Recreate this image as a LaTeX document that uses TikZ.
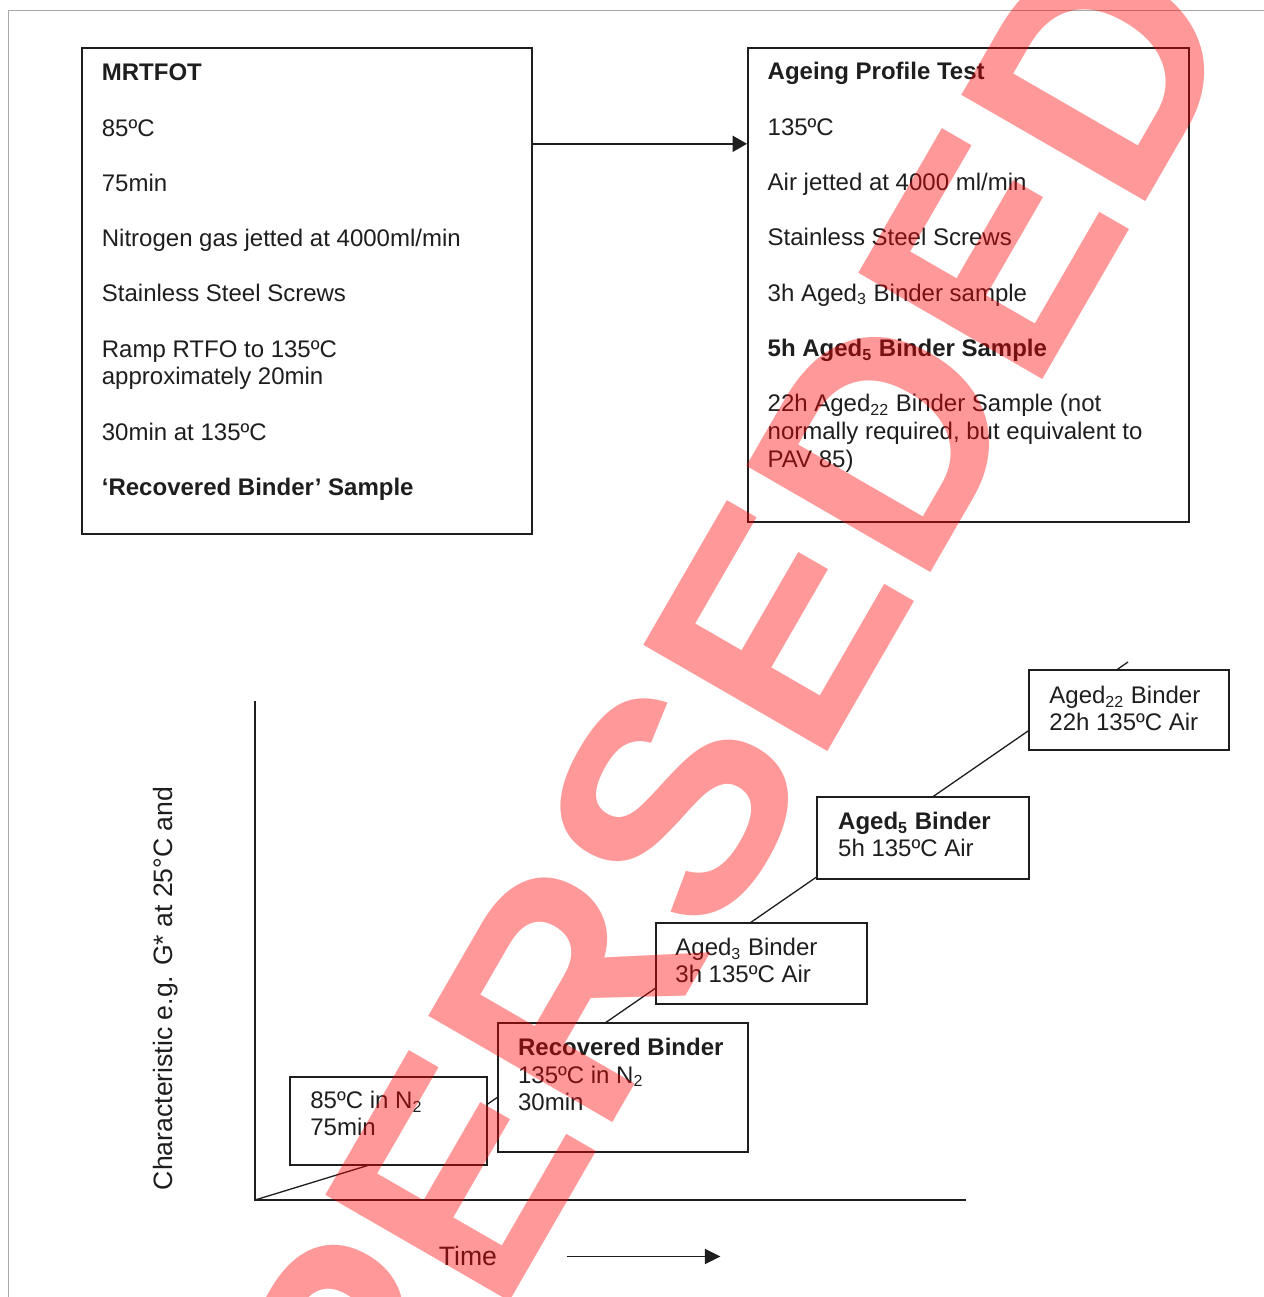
\documentclass[tikz,border=0pt]{standalone}
\usepackage{fontspec}
\setmainfont{Liberation Sans}
\usetikzlibrary{arrows.meta,calc,backgrounds}
\definecolor{ink}{HTML}{1E1E1E}
\definecolor{framegray}{HTML}{A8A8A8}
\begin{document}
\begin{tikzpicture}[x=0.5pt,y=-0.5pt,
  box/.style={draw=ink, line width=0.85pt, fill=white, inner sep=0pt, anchor=north west},
  txt/.style={text=ink, inner sep=0pt, anchor=north west, align=left, font=\fontsize{12pt}{13.825pt}\selectfont},
  gtxt/.style={txt, font=\fontsize{12pt}{13.4pt}\selectfont},
  lbl/.style={text=ink, inner sep=0pt, font=\fontsize{13.3pt}{15pt}\selectfont},
  link/.style={draw=ink, line width=0.65pt},
  axis/.style={draw=ink, line width=0.9pt},
  arr/.style={draw=ink, line width=0.9pt, -{Triangle[length=7.2pt,width=8pt]}},
  arrb/.style={draw=ink, line width=0.9pt, -{Triangle[length=7.8pt,width=7.5pt]}},
  wm/.style={inner sep=0pt, text=red, text opacity=0.4, font=\bfseries\fontsize{154.5pt}{160pt}\selectfont}
]
\useasboundingbox (0,0) rectangle (1264,1297);
\clip (0,0) rectangle (1264,1297);
\begin{scope}[on background layer]
  \fill[white] (0,0) rectangle (1264,1297);
\end{scope}
\draw[framegray, line width=0.65pt] (8.3,1297) -- (8.3,10.3) -- (1264,10.3);

% top boxes
\node[box, minimum width=225pt, minimum height=243pt] (b1) at (81,47) {};
\node[box, minimum width=220.5pt, minimum height=237pt] (b2) at (747,47) {};

\node[txt] (t1) at (101.5,60.3) {\rule{0pt}{10pt}\textbf{MRTFOT}\\[13.825pt]
85ºC\\[13.825pt]
75min\\[13.825pt]
Nitrogen gas jetted at 4000ml/min\\[13.825pt]
Stainless Steel Screws\\[13.825pt]
Ramp RTFO to 135ºC\\
approximately 20min\\[13.825pt]
30min at 135ºC\\[13.825pt]
\textbf{‘Recovered Binder’ Sample}};

\node[txt] (t2) at (767.3,59.5) {\rule{0pt}{10pt}\textbf{Ageing Profile Test}\\[13.825pt]
135ºC\\[13.825pt]
Air jetted at 4000 ml/min\\[13.825pt]
Stainless Steel Screws\\[13.825pt]
3h Aged\textsubscript{3} Binder sample\\[13.825pt]
\textbf{5h Aged\textsubscript{5} Binder Sample}\\[13.825pt]
22h Aged\textsubscript{22} Binder Sample (not\\
normally required, but equivalent to\\
PAV 85)};

\path (b1.north east) ++(0,96.8) coordinate (a1);
\draw[arr] (a1) -- (a1 -| b2.west);

% graph
\coordinate (O) at (255,1200);
\coordinate (ytop) at (255,701);
\coordinate (xend) at (966,1200);
\draw[axis] (ytop) -- (O) -- (xend);

\node[box, minimum width=100pt, minimum height=40pt] (b22) at (1028,669) {};
\node[box, minimum width=106pt, minimum height=41pt] (b5) at (816,796) {};
\node[box, minimum width=105.5pt, minimum height=40.5pt] (b3) at (655,922) {};
\node[box, minimum width=125pt, minimum height=64.5pt] (brec) at (497,1022) {};
\node[box, minimum width=98.5pt, minimum height=44pt] (b85) at (289,1076) {};

\coordinate (c1) at ($(b85.south west)+(78,0)$);
\coordinate (c2) at ($(b85.north east)+(0,28)$);
\coordinate (cend) at (1128,662);
\begin{scope}[on background layer]
  \draw[link] (O) -- (c1) -- (c2) -- (cend);
\end{scope}

\node[gtxt] (t22) at (1049,683.5) {\rule{0pt}{10pt}Aged\textsubscript{22} Binder\\22h 135ºC Air};
\node[gtxt] (t5) at (837.8,809) {\rule{0pt}{10pt}\textbf{Aged\textsubscript{5} Binder}\\5h 135ºC Air};
\node[gtxt] (t3) at (675,935.5) {\rule{0pt}{10pt}Aged\textsubscript{3} Binder\\3h 135ºC Air};
\node[txt] (trec) at (517.7,1035) {\rule{0pt}{10pt}\textbf{Recovered Binder}\\135ºC in N\textsubscript{2}\\30min};
\node[gtxt] (t85) at (310,1088.5) {\rule{0pt}{10pt}85ºC in N\textsubscript{2}\\75min};

\node[lbl, rotate=90, anchor=base west] (ylab) at (172.5,1190.5) {Characteristic e.g. G* at 25°C and};
\node[lbl, anchor=base west] (time) at (438.5,1265.7) {Time};
\coordinate (ta) at (566.7,1256.5);
\coordinate (tb) at (720.5,1256.5);
\draw[arrb] (ta) -- (tb);

% watermark
\node[wm, rotate=60, anchor=base west] (wmark) at (182,1870) {SUPERSEDED};
\end{tikzpicture}
\end{document}
